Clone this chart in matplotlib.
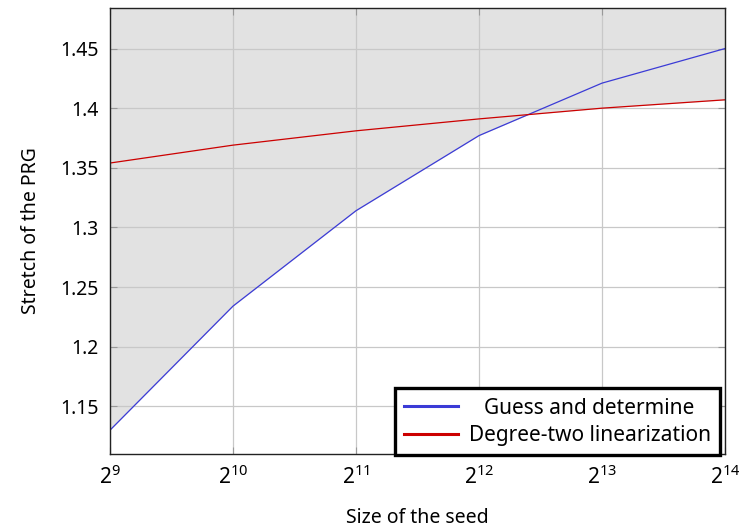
import numpy as np
import matplotlib
matplotlib.use("Agg")
import matplotlib.pyplot as plt

plt.rcParams['font.family'] = ['Noto Sans', 'DejaVu Sans']
plt.rcParams['mathtext.fontset'] = 'custom'
plt.rcParams['mathtext.rm'] = 'Noto Sans'
plt.rcParams['mathtext.it'] = 'Noto Sans'

# seed sizes as powers of two
exponents = [9, 10, 11, 12, 13, 14]
guess = [1.130, 1.234, 1.314, 1.377, 1.421, 1.450]
degree_two = [1.354, 1.369, 1.381, 1.391, 1.400, 1.407]

x = [2 ** e for e in exponents]
ytop = 1.484

fig = plt.figure(figsize=(7.4, 5.3), dpi=100)
ax = fig.add_axes([110 / 740, 1 - 454 / 530, 615 / 740, 446 / 530])

ax.set_xscale('log', base=2)
ax.set_xlim(x[0], x[-1])
ax.set_ylim(1.110, ytop)

# shaded region = above both curves' lower envelope
ax.fill_between(x, guess, ytop, color='#e2e2e2', lw=0, zorder=0)
ax.fill_between(x, degree_two, ytop, color='#e2e2e2', lw=0, zorder=0)
ax.plot(x, guess, color='#3b3bd6', lw=0.9, label='Guess and determine', zorder=3)
ax.plot(x, degree_two, color='#cc0000', lw=0.9, label='Degree-two linearization', zorder=3)

ax.set_xticks(x)
ax.set_xticklabels([r'$2^{%d}$' % e for e in exponents], fontsize=15)
yt = [1.15, 1.2, 1.25, 1.3, 1.35, 1.4, 1.45]
ax.set_yticks(yt)
ax.set_yticklabels(['1.15', '1.2', '1.25', '1.3', '1.35', '1.4', '1.45'], fontsize=14)
ax.minorticks_off()
ax.tick_params(direction='in', length=5, color='#999999', top=True, right=True, pad=8)
ax.grid(True, color='#c8c8c8', lw=0.9, zorder=1)
ax.set_axisbelow(False)
for s in ax.spines.values():
    s.set_color('#222222')
    s.set_linewidth(1.0)
    s.set_zorder(4)

ax.set_xlabel('Size of the seed', fontsize=14, labelpad=14)
ax.set_ylabel('Stretch of the PRG', fontsize=14, labelpad=14)

leg = ax.legend(loc='lower right', bbox_to_anchor=(0.992, -0.003), borderaxespad=0,
                fontsize=15, fancybox=False, framealpha=1, edgecolor='black',
                handlelength=2.6, borderpad=0.45, labelspacing=0.3, handletextpad=0.5)
leg.get_frame().set_linewidth(2.4)
for line in leg.get_lines():
    line.set_linewidth(2.2)
leg.set_zorder(5)

# center legend texts like pgfplots does
fig.canvas.draw()
r = fig.canvas.get_renderer()
widths = [t.get_window_extent(r).width for t in leg.get_texts()]
wmax = max(widths)
for t, w in zip(leg.get_texts(), widths):
    t.set_x((wmax - w) / 2)

fig.savefig('out.png', dpi=100)
